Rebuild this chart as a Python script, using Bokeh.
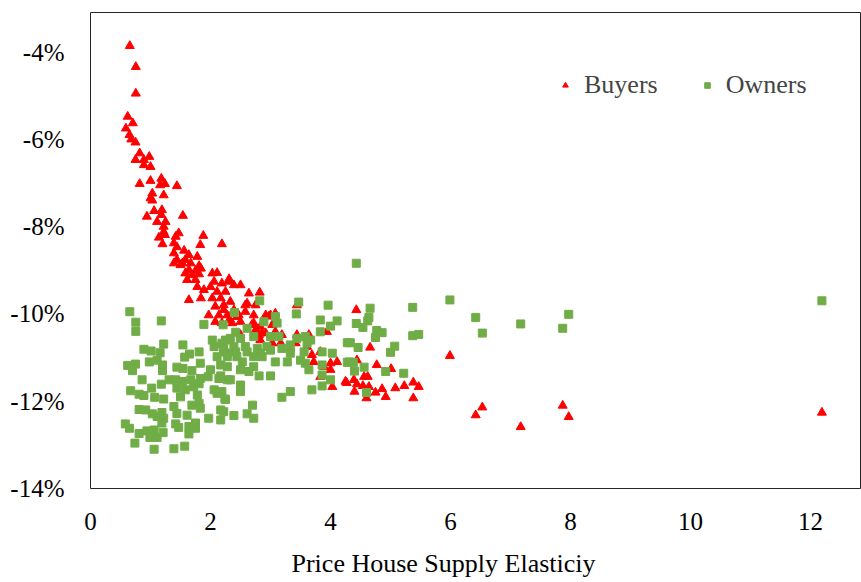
from bokeh.plotting import figure
from bokeh.models import Range1d, FixedTicker, PrintfTickFormatter, Legend, LegendItem, Title
from bokeh.embed import file_html
from bokeh.resources import INLINE

# Buyers (red triangles): supply elasticity vs. price change (%)
buyers_x = [0.655, 0.755, 0.755, 0.62, 0.705, 0.59, 0.65, 0.68, 0.75, 0.82, 0.75, 0.98, 0.89,
            0.89, 1.00, 0.82, 1.00, 1.18, 1.16, 1.24, 1.44, 1.03, 1.00, 1.22, 1.03, 1.06, 1.19,
            0.94, 1.18, 1.54, 1.11, 1.25, 1.22, 1.22, 1.47, 1.42, 1.14, 1.24, 1.88, 1.20, 1.39,
            1.44, 1.83, 2.19, 1.56, 1.39, 1.64, 1.78, 1.44, 1.58, 1.39, 1.50, 1.67, 1.81, 1.64,
            1.75, 1.84, 1.58, 1.69, 1.81, 2.03, 2.11, 2.31, 1.53, 1.61, 1.75, 2.06, 2.19, 2.31,
            2.39, 2.50, 1.78, 2.00, 1.89, 2.11, 2.25, 2.64, 2.82, 1.64, 1.84, 2.03, 2.17, 2.33,
            2.61, 2.75, 2.22, 2.08, 2.22, 2.39, 2.58, 1.97, 2.14, 2.28, 2.47, 2.72, 2.08, 2.31,
            2.50, 2.97, 2.69, 2.83, 2.50, 2.92, 3.19, 3.44, 2.83, 3.17, 3.42, 3.44, 2.58, 2.92,
            3.00, 3.08, 2.44, 2.19, 2.36, 2.72, 3.03, 2.75, 2.86, 3.08, 3.64, 3.94, 3.33, 3.61,
            3.69, 3.83, 4.00, 4.11, 3.72, 4.00, 3.89, 4.25, 4.03, 3.83, 2.81, 3.03, 4.43, 4.66,
            4.44, 4.77, 5.01, 4.27, 4.39, 4.56, 4.62, 4.44, 4.54, 4.64, 4.40, 4.75, 4.86, 4.92,
            5.08, 5.23, 5.38, 5.47, 5.38, 4.60, 5.99, 6.53, 6.42, 7.17, 7.87, 7.97, 12.19]
buyers_y = [-3.86, -4.34, -4.95, -5.48, -5.63, -5.75, -5.90, -6.00, -6.07, -6.32, -6.47, -6.40, -6.47,
            -6.59, -6.63, -7.02, -6.95, -6.90, -7.05, -7.02, -7.07, -7.24, -7.35, -7.28, -7.40, -7.64, -7.62,
            -7.77, -7.73, -7.75, -7.89, -7.89, -8.00, -8.12, -8.15, -8.23, -8.25, -8.19, -8.21, -8.40, -8.38,
            -8.47, -8.42, -8.40, -8.55, -8.61, -8.65, -8.69, -8.76, -8.76, -8.84, -8.88, -8.84, -8.90, -8.99,
            -9.01, -8.96, -9.07, -9.11, -9.09, -9.07, -9.06, -9.20, -8.84, -9.22, -9.22, -9.26, -9.30, -9.26,
            -9.34, -9.34, -9.38, -9.38, -9.45, -9.49, -9.49, -9.53, -9.51, -9.68, -9.64, -9.64, -9.64, -9.72,
            -9.76, -9.80, -9.80, -9.83, -9.91, -9.91, -9.95, -10.03, -10.03, -10.03, -10.03, -10.03, -10.18, -10.14,
            -10.18, -10.06, -10.25, -10.29, -10.48, -10.44, -10.48, -10.48, -10.60, -10.67, -10.67, -9.80, -9.80, -10.03,
            -10.03, -9.99, -10.07, -10.21, -10.21, -10.21, -10.25, -10.37, -10.44, -10.41, -10.48, -10.41, -10.79, -10.75,
            -10.94, -10.87, -11.13, -11.10, -11.10, -11.28, -11.21, -11.55, -11.67, -11.44, -10.48, -10.67, -9.91, -10.77,
            -11.06, -11.17, -11.26, -11.58, -11.51, -11.44, -11.44, -11.61, -11.65, -11.67, -11.78, -11.80, -11.72, -11.90,
            -11.70, -11.65, -11.57, -11.67, -11.93, -11.93, -10.96, -12.14, -12.32, -12.59, -12.10, -12.36, -12.26]

# Owners (green squares)
owners_x = [0.655, 0.755, 0.755, 1.18, 1.89, 1.22, 1.54, 0.89, 1.01, 1.16, 0.62, 0.75, 0.70, 0.98,
            1.11, 1.20, 1.20, 1.44, 1.57, 1.65, 1.81, 1.54, 1.69, 1.83, 2.03, 2.06, 2.19, 2.11, 2.28,
            2.00, 2.17, 1.96, 2.14, 2.28, 0.86, 1.02, 1.18, 1.31, 1.42, 1.53, 1.67, 1.72, 1.44, 1.58,
            0.67, 0.81, 0.89, 1.07, 1.22, 1.50, 1.78, 2.06, 2.11, 2.24, 1.69, 1.81, 1.83, 1.39, 1.44,
            1.61, 0.81, 0.92, 1.03, 1.19, 1.11, 1.22, 1.19, 1.97, 2.17, 0.58, 0.65, 0.81, 0.94, 1.06,
            0.99, 1.11, 1.21, 1.42, 1.47, 1.64, 1.75, 1.64, 1.75, 0.74, 1.06, 1.39, 1.57, 1.83, 1.81,
            2.17, 2.82, 3.47, 3.96, 2.40, 3.43, 2.21, 2.42, 2.61, 2.89, 3.08, 3.11, 3.83, 4.11, 4.00,
            3.83, 4.28, 2.25, 2.33, 2.50, 2.72, 3.00, 3.14, 3.44, 3.58, 3.67, 3.61, 2.22, 2.39, 2.58,
            2.78, 2.94, 3.19, 3.33, 2.22, 2.42, 2.61, 2.83, 3.00, 3.33, 3.56, 3.86, 4.03, 4.31, 2.28,
            2.44, 2.72, 2.86, 3.08, 3.28, 3.50, 3.58, 3.86, 2.28, 2.53, 2.72, 2.50, 2.64, 2.81, 3.00,
            3.64, 3.86, 4.00, 2.17, 2.33, 2.50, 3.86, 3.69, 3.33, 3.19, 2.19, 2.50, 2.25, 2.70, 2.61,
            2.39, 2.22, 2.72, 4.43, 4.66, 5.37, 5.99, 4.43, 4.54, 4.62, 4.64, 4.77, 4.86, 4.75, 5.37,
            5.47, 4.33, 4.46, 5.07, 5.00, 4.28, 4.38, 4.40, 4.56, 4.92, 5.22, 4.60, 6.42, 6.53, 7.17,
            7.97, 7.87, 12.19]
owners_y = [-9.95, -10.19, -10.40, -10.16, -10.24, -10.69, -10.71, -10.81, -10.85, -10.89, -11.18, -11.15, -11.30, -11.10,
            -11.06, -11.17, -11.30, -11.22, -10.99, -10.92, -10.87, -11.25, -11.30, -11.13, -10.60, -10.75, -10.67, -10.98, -10.90,
            -11.28, -11.17, -11.44, -11.48, -11.51, -11.51, -11.70, -11.61, -11.51, -11.51, -11.55, -11.51, -11.67, -11.70, -11.74,
            -11.76, -11.84, -11.87, -11.91, -11.95, -11.90, -11.86, -11.74, -11.82, -11.95, -12.09, -12.05, -12.16, -12.12, -12.28,
            -12.32, -12.19, -12.20, -12.29, -12.26, -12.35, -12.39, -12.50, -12.39, -12.43, -12.52, -12.62, -12.74, -12.68, -12.66,
            -12.83, -12.83, -12.72, -12.52, -12.60, -12.58, -12.50, -12.75, -12.62, -12.96, -13.10, -13.09, -13.03, -11.48, -11.60,
            -12.20, -9.70, -9.73, -9.80, -9.97, -10.00, -10.25, -10.42, -10.33, -10.18, -10.06, -10.21, -10.14, -10.16, -10.28,
            -10.41, -10.66, -10.60, -10.56, -10.56, -10.52, -10.52, -10.52, -10.56, -10.52, -10.60, -10.67, -10.79, -10.75, -10.75,
            -10.79, -10.75, -10.79, -10.71, -10.87, -10.87, -10.87, -10.90, -10.83, -10.90, -10.87, -10.87, -10.90, -11.10, -10.98,
            -10.98, -10.98, -10.98, -11.10, -11.10, -11.06, -11.13, -11.17, -11.21, -11.10, -11.21, -11.28, -11.32, -11.42, -11.42,
            -11.28, -11.40, -11.51, -11.42, -11.51, -11.63, -11.65, -11.74, -11.78, -11.91, -11.78, -11.78, -11.96, -12.09, -12.29,
            -12.33, -12.24, -12.39, -8.84, -9.87, -9.85, -9.68, -10.22, -10.31, -10.16, -10.08, -10.38, -10.43, -10.54, -10.50,
            -10.47, -10.66, -10.77, -10.74, -10.88, -11.11, -11.11, -11.31, -11.22, -11.32, -11.36, -11.80, -10.08, -10.44, -10.23,
            -10.01, -10.33, -9.70]

x_ticks = [0, 2, 4, 6, 8, 10, 12]
y_ticks = [-14, -12, -10, -8, -6, -4]
x_title = "Price House Supply Elasticiy"

FONT = "Liberation Serif"

p = figure(frame_width=770, frame_height=476,
           x_range=Range1d(0, 12.833), y_range=Range1d(-14, -3.095),
           output_backend="svg", toolbar_location=None,
           min_border_left=90, min_border_right=1, min_border_top=12, min_border_bottom=20)

p.grid.visible = False
p.background_fill_color = "white"
p.border_fill_color = "white"
p.outline_line_color = "#262626"
p.outline_line_width = 1

r_buy = p.scatter(buyers_x, buyers_y, marker="triangle", size=9, color="#FF0000")
r_own = p.scatter(owners_x, owners_y, marker="square", size=8, color="#70AD47")

p.xaxis.ticker = FixedTicker(ticks=x_ticks)
p.yaxis.ticker = FixedTicker(ticks=y_ticks)
p.yaxis.formatter = PrintfTickFormatter(format="%d%%")
for ax in (p.xaxis, p.yaxis):
    ax.axis_line_color = None
    ax.major_tick_line_color = None
    ax.minor_tick_line_color = None
    ax.major_label_text_font = FONT
    ax.major_label_text_font_size = "25px"
    ax.major_label_text_color = "#000000"
p.yaxis.major_label_standoff = 20
p.xaxis.major_label_standoff = 18

p.add_layout(Title(text=x_title, align="left", offset=201, standoff=28,
                   text_font=FONT, text_font_size="26px", text_font_style="normal",
                   text_color="#000000"), "below")

legend = Legend(items=[LegendItem(label="Buyers", renderers=[r_buy]),
                       LegendItem(label="Owners", renderers=[r_own])],
                orientation="horizontal", location=(468, 388),
                padding=0, margin=0, spacing=42, glyph_width=14, label_standoff=12,
                label_text_font=FONT, label_text_font_size="26px",
                border_line_color=None, background_fill_alpha=0)
p.add_layout(legend)

open("out.html", "w").write(file_html(p, INLINE))
